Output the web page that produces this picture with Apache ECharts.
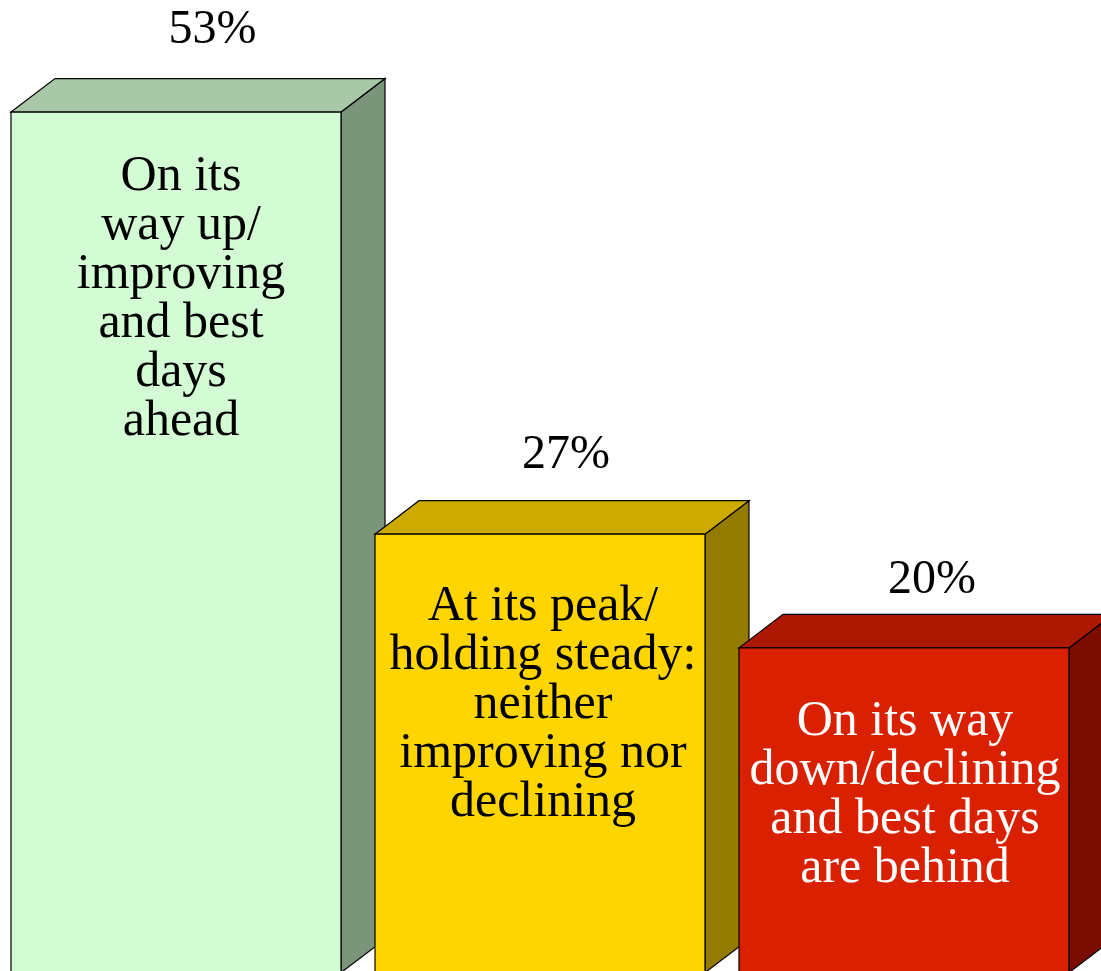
<!DOCTYPE html>
<html>
<head>
<meta charset="utf-8">
<script src="https://cdn.jsdelivr.net/npm/echarts@6/dist/echarts.min.js"></script>
<style>
  html, body { margin: 0; padding: 0; background: #fff; }
  #chart { width: 1101px; height: 971px; }
</style>
</head>
<body>
<div id="chart"></div>
<script>
// data
const categories = [
  'On its\nway up/\nimproving\nand best\ndays\nahead',
  'At its peak/\nholding steady:\nneither\nimproving nor\ndeclining',
  'On its way\ndown/declining\nand best days\nare behind'
]
const values = [53, 27, 20]
const valueLabels = ['53%', '27%', '20%']

// styling per bar
const frontColors = ['#D4FCD4', '#FFD500', '#D92000']
const topColors = ['#A8C8A8', '#CCAA00', '#AD1800']
const sideColors = ['#7A957A', '#937A00', '#7A0C00']
const textColors = ['#000', '#000', '#fff']
const textShiftX = [5, 3, 1]
const textGapY = [40, 48, 50]
const labelShiftX = [36.5, 26, 28]
const labelGapY = [82, 79, 67]

const chart = echarts.init(document.getElementById('chart'))
const FONT = '"Liberation Serif", "Times New Roman", serif'
const DX = 44
const DY = 33.5
const SHIFT = -6

chart.setOption({
  animation: false,
  grid: { left: 0, right: 9, top: 0, bottom: 0 },
  xAxis: { type: 'category', data: categories, show: false },
  // the bars' base sits a couple of pixels below the picture's edge
  yAxis: { type: 'value', min: 0.1, max: 59.9, show: false },
  series: [{
    type: 'custom',
    data: values.map((v, i) => [i, v]),
    renderItem: (params, api) => {
      const i = params.dataIndex
      const topPt = api.coord([api.value(0), api.value(1)])
      const basePt = api.coord([api.value(0), 0])
      const band = api.size([1, 0])[0]
      const w = band * 0.9066
      const cx = topPt[0] + SHIFT
      const x0 = cx - w / 2
      const x1 = cx + w / 2
      const y0 = topPt[1]
      const yb = basePt[1]
      const stroke = { stroke: '#000', lineWidth: 1.2, lineJoin: 'miter' }
      return {
        type: 'group',
        children: [
          {
            type: 'polygon',
            shape: { points: [[x1, y0], [x1 + DX, y0 - DY], [x1 + DX, yb - DY], [x1, yb]] },
            style: Object.assign({ fill: sideColors[i] }, stroke)
          },
          {
            type: 'polygon',
            shape: { points: [[x0, y0], [x0 + DX, y0 - DY], [x1 + DX, y0 - DY], [x1, y0]] },
            style: Object.assign({ fill: topColors[i] }, stroke)
          },
          {
            type: 'rect',
            shape: { x: x0, y: y0, width: w, height: yb - y0 },
            style: Object.assign({ fill: frontColors[i] }, stroke)
          },
          {
            type: 'text',
            x: cx + textShiftX[i],
            y: y0 + textGapY[i],
            style: {
              text: categories[i],
              fill: textColors[i],
              font: '50px ' + FONT,
              lineHeight: 49,
              align: 'center',
              verticalAlign: 'top'
            }
          },
          {
            type: 'text',
            x: cx + labelShiftX[i],
            y: y0 - labelGapY[i],
            style: {
              text: valueLabels[i],
              fill: '#000',
              font: '48px ' + FONT,
              align: 'center',
              verticalAlign: 'middle'
            }
          }
        ]
      }
    }
  }]
})

window.addEventListener('resize', () => chart.resize())
</script>
</body>
</html>
